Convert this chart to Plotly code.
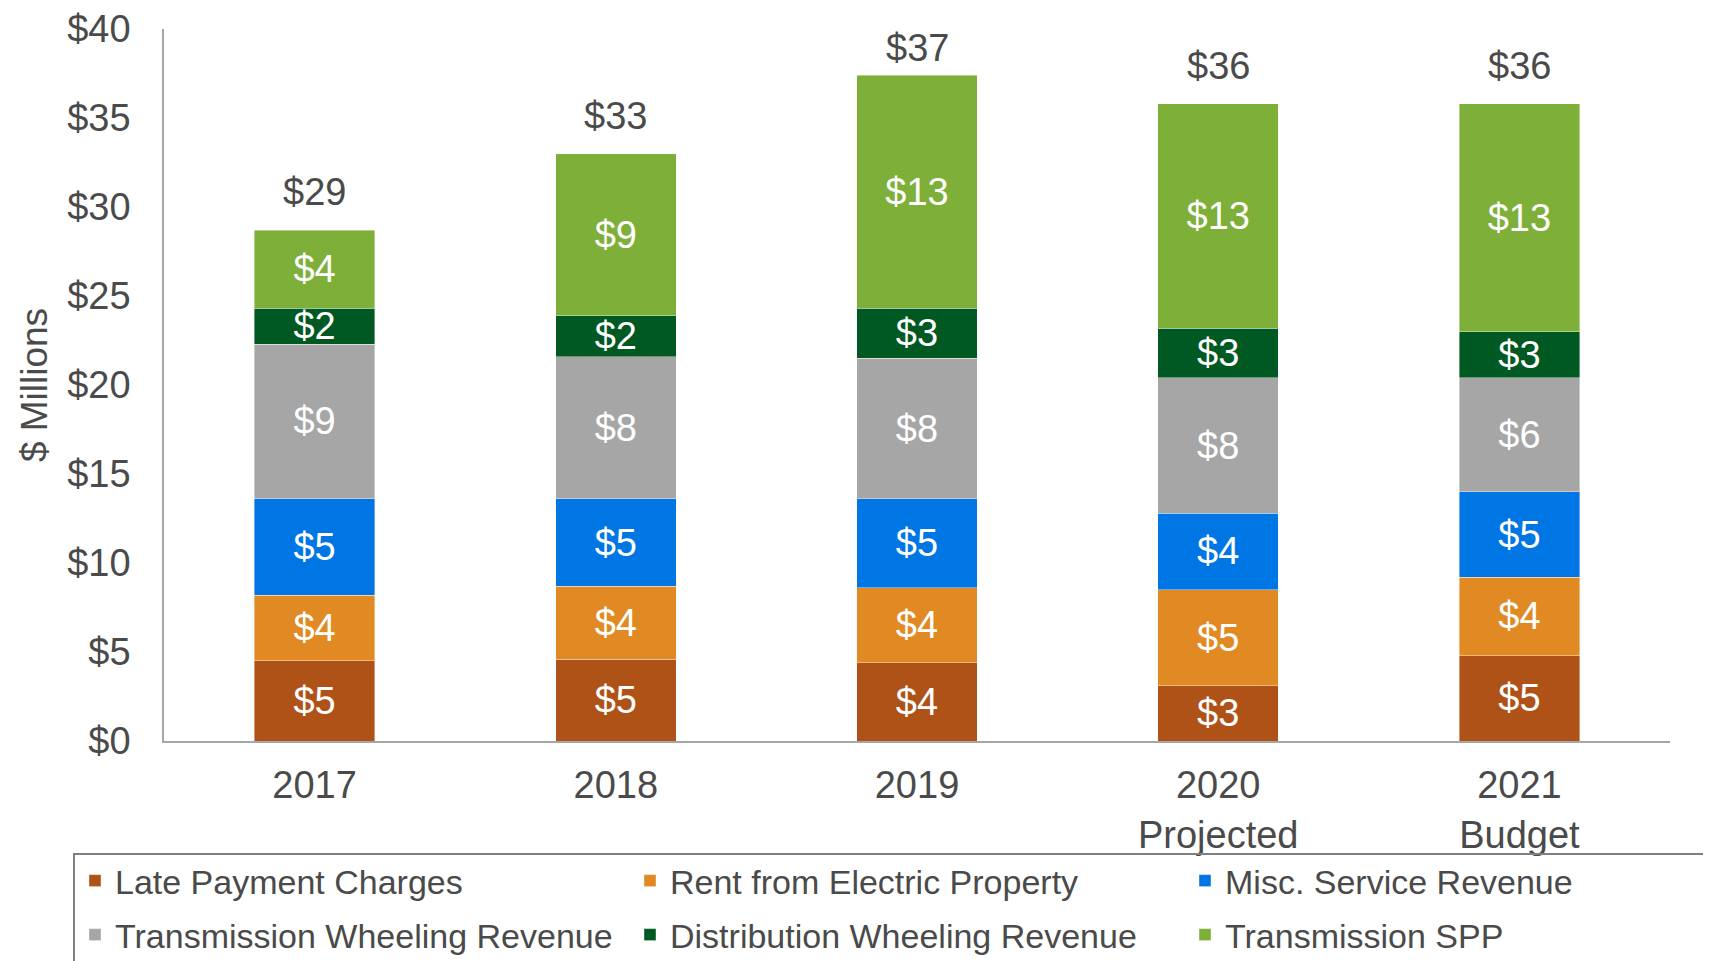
import plotly.graph_objects as go

categories = ["2017", "2018", "2019", "2020<br>Projected", "2021<br>Budget"]
late_payment = [4.5, 4.6, 4.4, 3.1, 4.8]
rent_electric = [3.7, 4.1, 4.2, 5.4, 4.4]
misc_service = [5.4, 4.9, 5.0, 4.3, 4.8]
trans_wheeling = [8.7, 8.0, 7.9, 7.6, 6.4]
dist_wheeling = [2.0, 2.3, 2.8, 2.8, 2.6]
trans_spp = [4.4, 9.1, 13.1, 12.6, 12.8]

series_names = ["Late Payment Charges", "Rent from Electric Property", "Misc. Service Revenue",
                "Transmission Wheeling Revenue", "Distribution Wheeling Revenue", "Transmission SPP"]
series_values = [late_payment, rent_electric, misc_service, trans_wheeling, dist_wheeling, trans_spp]
colors = ["#AF5218", "#E18A23", "#0076E4", "#A6A6A6", "#005922", "#7DAF39"]
legend_rows = ["legend", "legend", "legend", "legend2", "legend2", "legend2"]

y_ticks = [0, 5, 10, 15, 20, 25, 30, 35, 40]
y_tick_labels = ["$0", "$5", "$10", "$15", "$20", "$25", "$30", "$35", "$40"]

FONT = "Liberation Sans, Arial, sans-serif"
TXT = "#4A4A4A"

# page body has an 8px margin; figure is sized/placed to compensate
W, H = 1703, 953
L, T, B, R = 156, 21, 220, 41
PW, PH = W - L - R, H - T - B   # 1506 x 712
Y_MAX = 40

fig = go.Figure()
for name, vals, col, lg in zip(series_names, series_values, colors, legend_rows):
    fig.add_trace(go.Bar(
        x=categories, y=vals, name=name, legend=lg,
        marker=dict(color=col, line=dict(width=0.8, color="rgba(255,255,255,0.5)")),
        width=0.4,
        texttemplate="$%{y:.0f}", textposition="inside", insidetextanchor="middle",
        textangle=0,
        textfont=dict(family=FONT, size=38, color="white"),
        constraintext="none",
        hoverinfo="skip",
    ))

totals = [sum(v) for v in zip(*series_values)]
px_per_unit = PH / Y_MAX
for i, t in enumerate(totals):
    headroom = (Y_MAX - t) * px_per_unit
    shift = min(15, headroom - 42)  # keep total label inside the plot area
    fig.add_annotation(x=i, y=t, text=f"${t:.0f}", showarrow=False,
                       yanchor="bottom", yshift=shift,
                       font=dict(family=FONT, size=38, color=TXT))

# legend frame (clipped by page edges as in the original)
fig.add_shape(type="rect", xref="paper", yref="paper",
              x0=(74 - 164) / PW, x1=1.2, y0=(741 - 854) / PH, y1=-0.6,
              line=dict(color="#7F7F7F", width=2), fillcolor="rgba(0,0,0,0)", layer="above")

leg_common = dict(
    orientation="h", traceorder="normal",
    xanchor="left", yanchor="top",
    font=dict(family=FONT, size=34, color=TXT),
    entrywidth=510, entrywidthmode="pixels",
    itemwidth=30,
    bgcolor="rgba(0,0,0,0)",
)

fig.update_layout(
    width=W, height=H,
    margin=dict(l=L, r=R, t=T, b=B, autoexpand=False),
    paper_bgcolor="white", plot_bgcolor="white",
    barmode="stack",
    bargap=0.6,
    font=dict(family=FONT, color=TXT),
    showlegend=True,
    legend=dict(x=(75 - 164) / PW, y=(741 - 852) / PH, **leg_common),
    legend2=dict(x=(75 - 164) / PW, y=(741 - 906) / PH, **leg_common),
)
fig.update_xaxes(
    range=[-0.5, 4.5], showline=True, linecolor="#A6A6A6", linewidth=1.5,
    ticks="outside", ticklen=10, tickcolor="rgba(0,0,0,0)",
    tickfont=dict(family=FONT, size=38, color=TXT), showgrid=False, automargin=False,
)
fig.update_yaxes(
    range=[0, Y_MAX], tickvals=y_ticks, ticktext=y_tick_labels,
    showline=True, linecolor="#A6A6A6", linewidth=1.5,
    ticks="outside", ticklen=24, tickcolor="rgba(0,0,0,0)",
    tickfont=dict(family=FONT, size=38, color=TXT), showgrid=False, zeroline=False,
    automargin=False,
    title=dict(text="$ Millions", font=dict(family=FONT, size=37, color=TXT), standoff=8),
)

fig.write_html("out.html")
